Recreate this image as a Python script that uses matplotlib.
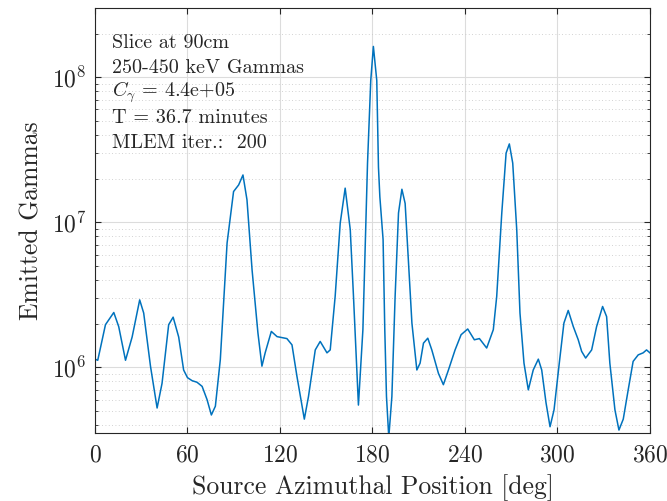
import numpy as np
import matplotlib
matplotlib.use("Agg")
import matplotlib.pyplot as plt
from matplotlib.ticker import LogLocator, FixedLocator, NullFormatter

plt.rcParams['font.family'] = ['cmr10', 'DejaVu Serif']
plt.rcParams['mathtext.fontset'] = 'cm'
plt.rcParams['axes.formatter.use_mathtext'] = True

# azimuth (deg) and emitted gammas
azimuth = [0, 1.8, 6.8, 12.2, 15.4, 19.8, 24.1, 29.0, 31.6, 36.0, 40.3, 43.5, 47.8, 50.7,
           54.3, 57.5, 60.0, 63.0, 66.2, 69.5, 72.7, 75.5, 78.1, 81.3, 85.7, 89.9, 93.2,
           96.0, 98.6, 101.9, 105.7, 108.3, 110.4, 114.4, 118.1, 124.5, 127.8, 131.0,
           135.8, 138.5, 142.9, 146.1, 150.5, 152.6, 155.8, 159.1, 162.3, 165.6, 167.7,
           170.9, 173.8, 176.8, 178.9, 180.6, 182.8, 183.9, 184.8, 186.9, 188.0, 189.1,
           190.6, 192.6, 194.7, 196.9, 199.1, 201.2, 203.4, 205.6, 208.8, 210.9, 213.1,
           215.9, 218.5, 222.8, 226.0, 229.3, 233.6, 237.5, 241.8, 246.1, 249.4, 254.1,
           258.4, 260.6, 263.9, 266.7, 268.8, 271.0, 273.6, 275.7, 278.3, 281.1, 284.3,
           287.6, 289.8, 292.6, 295.2, 297.8, 301.2, 304.2, 307.0, 310.3, 313.5, 315.7,
           318.3, 322.2, 325.4, 329.3, 331.9, 334.0, 337.3, 339.9, 342.7, 345.9, 349.1,
           352.4, 355.6, 357.8, 360]
gammas = [1.14e6, 1.12e6, 1.97e6, 2.39e6, 1.91e6, 1.12e6, 1.62e6, 2.92e6, 2.37e6, 1.02e6,
          5.25e5, 7.76e5, 1.97e6, 2.22e6, 1.62e6, 9.6e5, 8.5e5, 8.1e5, 7.9e5, 7.4e5,
          6.0e5, 4.7e5, 5.4e5, 1.13e6, 7.2e6, 1.63e7, 1.81e7, 2.12e7, 1.43e7, 4.71e6,
          1.73e6, 1.02e6, 1.26e6, 1.77e6, 1.63e6, 1.58e6, 1.43e6, 8.7e5, 4.4e5, 6.3e5,
          1.32e6, 1.51e6, 1.26e6, 1.32e6, 3.08e6, 9.9e6, 1.72e7, 8.9e6, 3.08e6, 5.5e5,
          1.82e6, 2.56e7, 9.5e7, 1.63e8, 9.5e7, 2.4e7, 1.5e7, 7.6e6, 1.82e6, 6.3e5,
          3.3e5, 6.3e5, 3.08e6, 1.16e7, 1.69e7, 1.35e7, 5.25e6, 2.02e6, 9.6e5, 1.07e6,
          1.47e6, 1.59e6, 1.32e6, 9.1e5, 7.6e5, 9.6e5, 1.32e6, 1.68e6, 1.84e6, 1.55e6,
          1.58e6, 1.36e6, 1.82e6, 3.08e6, 1.16e7, 3.0e7, 3.47e7, 2.56e7, 8.9e6, 2.37e6,
          1.07e6, 7.0e5, 9.6e5, 1.14e6, 9.6e5, 5.7e5, 3.9e5, 5.1e5, 1.07e6, 2.02e6,
          2.47e6, 1.91e6, 1.55e6, 1.29e6, 1.16e6, 1.32e6, 1.91e6, 2.63e6, 2.24e6, 1.07e6,
          5.1e5, 3.7e5, 4.4e5, 7.0e5, 1.10e6, 1.22e6, 1.26e6, 1.32e6, 1.26e6]

xticks = [0, 60, 120, 180, 240, 300, 360]
info_lines = ["Slice at 90cm", "250-450 keV Gammas", r"$C_\gamma$ = 4.4e+05",
              "T = 36.7 minutes", "MLEM iter.:  200"]

fig = plt.figure(figsize=(6.67, 5.01), dpi=100)
ax = fig.add_axes([0.1424, 0.1357, 0.832, 0.8483])

ax.plot(azimuth, gammas, color='#0072BD', lw=1.1)
ax.set_yscale('log')
ax.set_xlim(0, 360)
ax.set_ylim(3.53e5, 3.0e8)

ax.xaxis.set_major_locator(FixedLocator(xticks))
ax.yaxis.set_major_locator(LogLocator(base=10, numticks=10))
ax.yaxis.set_minor_locator(LogLocator(base=10, subs=np.arange(2, 10), numticks=20))
ax.yaxis.set_minor_formatter(NullFormatter())

ax.grid(True, which='major', color='#dcdcdc', lw=0.8)
ax.grid(True, which='minor', axis='y', color='#c4c4c4', lw=0.6, linestyle=(0, (1, 3)))
ax.set_axisbelow(True)

ax.tick_params(which='both', direction='in', top=True, right=True, colors='#262626',
               labelsize=17, labelcolor='#262626')
ax.tick_params(axis='x', pad=8)
ax.tick_params(axis='y', pad=6)
ax.tick_params(which='major', length=4)
ax.tick_params(which='minor', length=2)
for s in ax.spines.values():
    s.set_color('#262626')
    s.set_linewidth(0.8)

ax.set_xlabel("Source Azimuthal Position [deg]", fontsize=18.5, color='#262626', labelpad=6)
ax.set_ylabel("Emitted Gammas", fontsize=18.5, color='#262626', labelpad=6)

for i, line in enumerate(info_lines):
    ax.text(0.031, 0.918 - i * 0.0588, line, transform=ax.transAxes, fontsize=14.5,
            color='#262626', va='center', ha='left')

fig.savefig("out.png", dpi=100)
